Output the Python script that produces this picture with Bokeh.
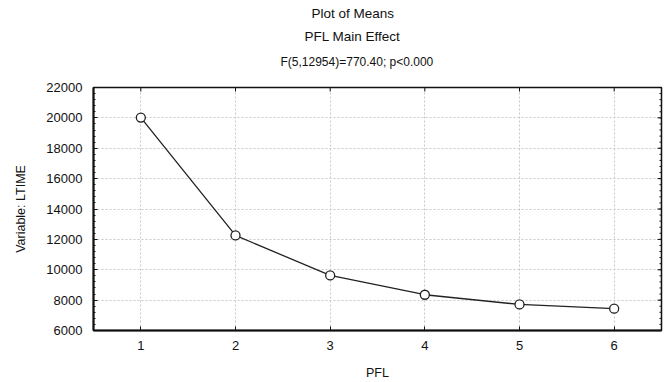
from bokeh.plotting import figure
from bokeh.models import Title, FixedTicker, Range1d
from bokeh.embed import file_html
from bokeh.resources import INLINE

pfl = [1, 2, 3, 4, 5, 6]
ltime_means = [20020, 12260, 9625, 8355, 7715, 7435]
y_ticks = [6000, 8000, 10000, 12000, 14000, 16000, 18000, 20000, 22000]
y_minor = [6000 + 400 * i for i in range(41)]
titles = ["Plot of Means", "PFL Main Effect", "F(5,12954)=770.40; p<0.000"]
x_lo, x_hi = 0.5, 6.5
y_lo, y_hi = 6000, 22000

FONT = "Liberation Sans"
INK = "#111111"

p = figure(frame_width=568, frame_height=243, output_backend="svg", toolbar_location=None,
           x_range=Range1d(x_lo, x_hi), y_range=Range1d(y_lo, y_hi),
           min_border_left=93, min_border_right=4, min_border_top=87, min_border_bottom=50)
p.title = None
sizes = ["13.5px", "13.5px", "12px"]
standoffs = [6, 7, 10]
offsets = [218, 211, 187]
pad_bottom = [0, 0, 14]
for t, fs, so, off, pb in reversed(list(zip(titles, sizes, standoffs, offsets, pad_bottom))):
    p.add_layout(Title(text=t, align="left", text_font=FONT, text_font_size=fs,
                       text_font_style="normal", text_color=INK, offset=off,
                       standoff=so, padding=dict(left=0, right=0, top=0, bottom=pb)),
                 "above")

p.line(pfl, ltime_means, line_color="#222222", line_width=1.3)
p.scatter(pfl, ltime_means, size=9, fill_color="white", line_color="#222222", line_width=1.3)

# inward ticks on the right and top frame edges
p.scatter([x_hi] * len(y_ticks), y_ticks, marker="dash", size=8, line_color=INK, line_width=1)
p.scatter([x_hi] * len(y_minor), y_minor, marker="dash", size=4, line_color=INK, line_width=1)
p.scatter(pfl, [y_hi] * len(pfl), marker="dash", angle=1.5708, size=8, line_color=INK, line_width=1)

p.xaxis.ticker = FixedTicker(ticks=pfl)
p.yaxis.ticker = FixedTicker(ticks=y_ticks, minor_ticks=y_minor)
p.xaxis.axis_label = "PFL"
p.yaxis.axis_label = "Variable: LTIME"
for ax in [p.xaxis[0], p.yaxis[0]]:
    ax.axis_label_text_font = FONT
    ax.axis_label_text_font_size = "12.5px"
    ax.axis_label_text_font_style = "normal"
    ax.axis_label_text_color = INK
    ax.major_label_text_font = FONT
    ax.major_label_text_font_size = "13px"
    ax.major_label_text_color = INK
    ax.axis_line_width = 2
    ax.axis_line_color = INK
    ax.major_tick_in = 4
    ax.major_tick_out = 0
    ax.minor_tick_in = 2
    ax.minor_tick_out = 0
    ax.major_tick_line_color = INK
    ax.minor_tick_line_color = INK
p.xaxis.minor_tick_line_color = None
p.xaxis.major_label_standoff = 10
p.xaxis.axis_label_standoff = 13
p.yaxis.major_label_standoff = 11
p.yaxis.axis_label_standoff = 15

p.xgrid.ticker = FixedTicker(ticks=pfl)
p.ygrid.ticker = FixedTicker(ticks=y_ticks)
p.grid.grid_line_color = "#c8c8c8"
p.grid.grid_line_dash = "2 2"
p.grid.grid_line_width = 1
p.outline_line_color = INK
p.outline_line_width = 1.5
p.background_fill_color = "white"
p.border_fill_color = "white"

open("out.html", "w").write(file_html(p, INLINE))
